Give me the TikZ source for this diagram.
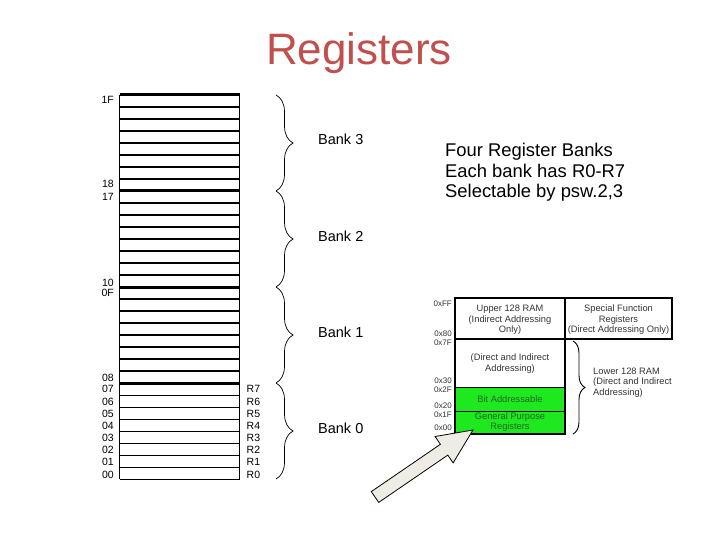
\documentclass[tikz,border=0pt]{standalone}
\usepackage{fontspec}
\setmainfont{Liberation Sans}
\usetikzlibrary{decorations.pathreplacing}
\definecolor{titlered}{RGB}{192,80,77}
\definecolor{ramgreen}{RGB}{30,232,30}
\definecolor{arrowfill}{RGB}{238,236,228}
\definecolor{gtext}{RGB}{40,100,40}
\begin{document}
\begin{tikzpicture}[x=1pt,y=-1pt,
  addr/.style={anchor=base east,inner sep=0pt,font=\fontsize{10.5}{12}\selectfont},
  reg/.style={anchor=base west,inner sep=0pt,font=\fontsize{10.5}{12}\selectfont},
  banklbl/.style={anchor=base west,inner sep=0pt,font=\fontsize{14.5}{16}\selectfont},
  bankbrace/.style={decorate,decoration={brace,amplitude=17pt},line width=0.7pt},
  thinrow/.style={line width=0.8pt},
  thickrow/.style={line width=2pt},
  bankrow/.style={line width=3pt},
  note/.style={anchor=base west,inner sep=0pt,font=\fontsize{18.4}{21}\selectfont},
  mm/.style={anchor=base,inner sep=0pt,font=\fontsize{9.3}{11}\selectfont,text=black!80},
  mmaddr/.style={anchor=base east,inner sep=0pt,font=\fontsize{8}{9}\selectfont,text=black!80},
  mmbox/.style={line width=1.6pt},
]
\useasboundingbox (0,0) rectangle (720,540);

% title
\node[anchor=base,inner sep=0pt,text=titlered,font=\fontsize{44}{50}\selectfont] (title) at (359,65) {Registers};

% register table
\draw[thinrow] (119.5,95) -- (119.5,479) (239.5,95) -- (239.5,479);
\foreach \i in {0,...,7} \draw[thinrow] (119.5,{479-12*\i}) -- (239.5,{479-12*\i});
\foreach \i in {9,...,15,17,18,...,23,25,26,...,31} \draw[thickrow] (119.5,{479-12*\i}) -- (239.5,{479-12*\i});
\foreach \i in {8,16,24,32} \draw[bankrow] (119.5,{479-12*\i}) -- (239.5,{479-12*\i});

% row addresses
\node[addr] (a1F) at (114,103.5) {1F};
\node[addr] (a18) at (114,188) {18};
\node[addr] (a17) at (114,200.5) {17};
\node[addr] (a10) at (114,286.5) {10};
\node[addr] (a0F) at (114,296.5) {0F};
\node[addr] (a08) at (114,381) {08};
\node[addr] (a07) at (114,392.5) {07};
\node[addr] (a06) at (114,405) {06};
\node[addr] (a05) at (114,417) {05};
\node[addr] (a04) at (114,429) {04};
\node[addr] (a03) at (114,441) {03};
\node[addr] (a02) at (114,453.5) {02};
\node[addr] (a01) at (114,465.5) {01};
\node[addr] (a00) at (114,478) {00};

% register names
\node[reg] (r7) at (246.5,392.5) {R7};
\node[reg] (r6) at (246.5,405) {R6};
\node[reg] (r5) at (246.5,417) {R5};
\node[reg] (r4) at (246.5,429) {R4};
\node[reg] (r3) at (246.5,441) {R3};
\node[reg] (r2) at (246.5,453.5) {R2};
\node[reg] (r1) at (246.5,465.5) {R1};
\node[reg] (r0) at (246.5,478) {R0};

% bank braces
\coordinate (b0) at (276,95);
\coordinate (b1) at (276,191);
\coordinate (b2) at (276,287);
\coordinate (b3) at (276,383);
\coordinate (b4) at (276,479);
\draw[bankbrace] (b0) -- (b1);
\draw[bankbrace] (b1) -- (b2);
\draw[bankbrace] (b2) -- (b3);
\draw[bankbrace] (b3) -- (b4);
\node[banklbl] (bank3) at (318,145) {Bank 3};
\node[banklbl] (bank2) at (318,241) {Bank 2};
\node[banklbl] (bank1) at (318,337) {Bank 1};
\node[banklbl] (bank0) at (318,433) {Bank 0};

% notes
\node[note] (n1) at (445,157) {Four Register Banks};
\node[note] (n2) at (445,177.5) {Each bank has R0-R7};
\node[note] (n3) at (445,198) {Selectable by psw.2,3};

% memory map
\fill[ramgreen] (455,387) rectangle (565,434);
\draw[line width=0.9pt] (455,411) -- (565,411) (455,387) -- (565,387);
\draw[mmbox] (455,298) rectangle (565,434);
\draw[mmbox] (565,298) rectangle (672,339);
\draw[mmbox] (455,339) -- (565,339);

\node[mmaddr] (m1) at (452,306) {0xFF};
\node[mmaddr] (m2) at (452,336.5) {0x80};
\node[mmaddr] (m3) at (452,345.5) {0x7F};
\node[mmaddr] (m4) at (452,383.5) {0x30};
\node[mmaddr] (m5) at (452,392.5) {0x2F};
\node[mmaddr] (m6) at (452,408) {0x20};
\node[mmaddr] (m7) at (452,417) {0x1F};
\node[mmaddr] (m8) at (452,430.5) {0x00};

\node[mm] (u1) at (510,311) {Upper 128 RAM};
\node[mm] (u2) at (510,322) {(Indirect Addressing};
\node[mm] (u3) at (510,332.5) {Only)};
\node[mm] (s1) at (618.5,311) {Special Function};
\node[mm] (s2) at (618.5,322) {Registers};
\node[mm] (s3) at (618.5,332.5) {(Direct Addressing Only)};
\node[mm] (d1) at (510,360.5) {(Direct and Indirect};
\node[mm] (d2) at (510,371.5) {Addressing)};
\node[mm,text=gtext] (ba) at (510,402) {Bit Addressable};
\node[mm,text=gtext] (g1) at (510,419) {General Purpose};
\node[mm,text=gtext] (g2) at (510,429.5) {Registers};

\coordinate (lb0) at (573,341);
\coordinate (lb1) at (573,434);
\draw[decorate,decoration={brace,amplitude=12pt},line width=0.9pt] (lb0) -- (lb1);
\node[mm,anchor=base west] (l1) at (593,374) {Lower 128 RAM};
\node[mm,anchor=base west] (l2) at (593,384.5) {(Direct and Indirect};
\node[mm,anchor=base west] (l3) at (593,395.5) {Addressing)};

% block arrow
\draw[fill=arrowfill,line width=0.8pt,line join=miter]
  (378.7,502.4) -- (447.8,455.1) -- (453.1,462.9) -- (473,430)
  -- (435.1,436.5) -- (440.4,444.3) -- (371.3,491.6) -- cycle;
\end{tikzpicture}
\end{document}
